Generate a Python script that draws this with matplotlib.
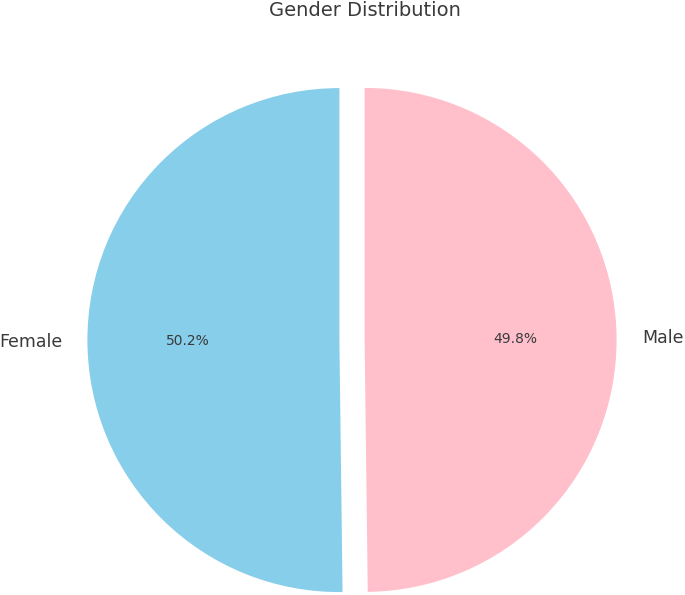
import matplotlib.pyplot as plt

labels = ['Female', 'Male']
shares = [50.2, 49.8]
colors = ['skyblue', 'pink']

TEXT_COLOR = '#3a3a3a'

fig = plt.figure(figsize=(6.85, 5.95), dpi=100)
ax = fig.add_axes([0, 0, 1, 1])

wedges, texts, autotexts = ax.pie(
    shares, labels=labels, colors=colors, autopct='%1.1f%%',
    startangle=90, explode=(0.05, 0.05), labeldistance=1.1,
    textprops={'color': TEXT_COLOR})
for t in texts:
    t.set_fontsize(12.5)
for t in autotexts:
    t.set_fontsize(10)

# pie centre at about (352, 340) px, radius about 252 px
scale = 252.0
ax.set_xlim(-352 / scale, (685 - 352) / scale)
ax.set_ylim(-(595 - 340) / scale, 340 / scale)
ax.set_aspect('equal')
ax.axis('off')

fig.text(365 / 685, 1 - 10 / 595, 'Gender Distribution', ha='center', va='center',
         fontsize=14, color=TEXT_COLOR)

plt.savefig('out.png', dpi=100)
